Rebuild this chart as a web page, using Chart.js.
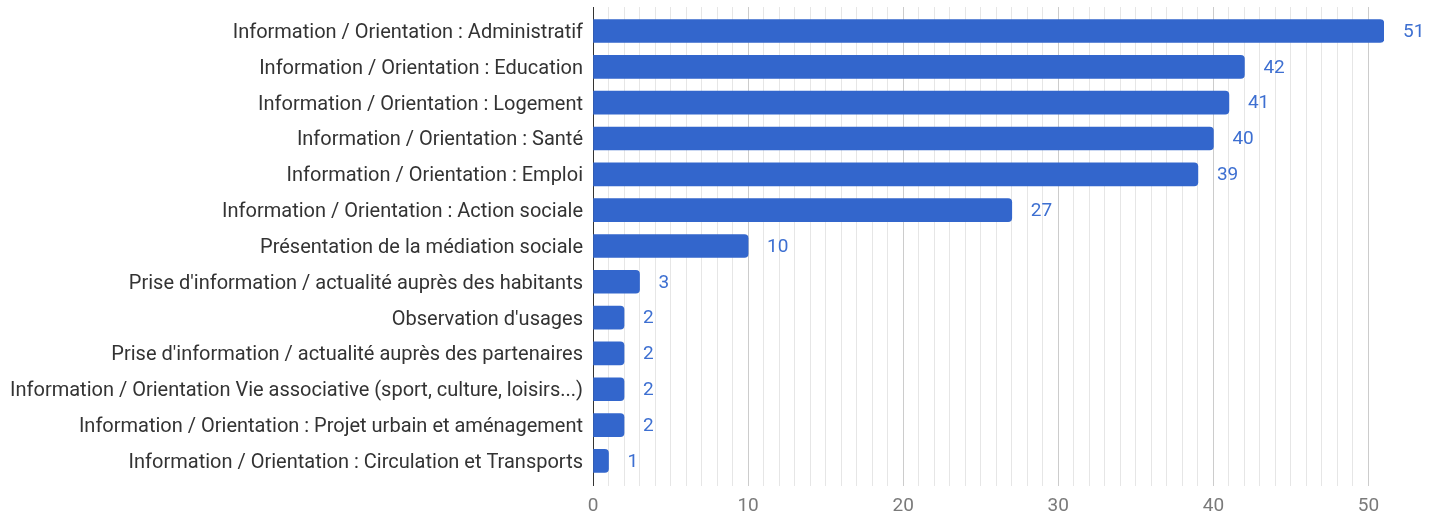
<!DOCTYPE html>
<html>
<head>
<meta charset="utf-8">
<script src="https://cdn.jsdelivr.net/npm/chart.js@4/dist/chart.umd.min.js"></script>
<style>
  html, body { margin: 0; padding: 0; background: #fff; }
  #wrap { width: 1441px; height: 518px; }
</style>
</head>
<body>
<div id="wrap"><canvas id="chart" width="1441" height="518"></canvas></div>
<script>
var categories = [
    "Information / Orientation : Administratif",
    "Information / Orientation : Education",
    "Information / Orientation : Logement",
    "Information / Orientation : Santé",
    "Information / Orientation : Emploi",
    "Information / Orientation : Action sociale",
    "Présentation de la médiation sociale",
    "Prise d'information / actualité auprès des habitants",
    "Observation d'usages",
    "Prise d'information / actualité auprès des partenaires",
    "Information / Orientation Vie associative (sport, culture, loisirs...)",
    "Information / Orientation : Projet urbain et aménagement",
    "Information / Orientation : Circulation et Transports"
];
var counts = [51, 42, 41, 40, 39, 27, 10, 3, 2, 2, 2, 2, 1];
var xTickLabels = [0, 10, 20, 30, 40, 50];

var points = [];
for (var i = 0; i < counts.length; i++) {
    points.push({x: counts[i], y: i});
}

// draws the count just to the right of each bar
var valueLabels = {
    id: 'valueLabels',
    afterDatasetsDraw: function(chart) {
        var ctx = chart.ctx;
        var meta = chart.getDatasetMeta(0);
        ctx.save();
        ctx.font = '19px Roboto';
        ctx.fillStyle = '#3d6fd1';
        ctx.textAlign = 'left';
        ctx.textBaseline = 'middle';
        meta.data.forEach(function(bar, idx) {
            ctx.fillText(String(counts[idx]), bar.x + 19, bar.y + 1);
        });
        ctx.restore();
    }
};

var ctx = document.getElementById('chart').getContext('2d');
var myChart = new Chart(ctx, {
    type: 'bar',
    data: {
        datasets: [{
            data: points,
            backgroundColor: '#3366cc',
            borderWidth: 0,
            borderRadius: {topLeft: 0, bottomLeft: 0, topRight: 4, bottomRight: 4},
            borderSkipped: false,
            barThickness: 23
        }]
    },
    options: {
        indexAxis: 'y',
        responsive: false,
        animation: false,
        layout: {
            padding: {top: 7, right: 57, bottom: 0, left: 0}
        },
        plugins: {
            legend: {display: false},
            tooltip: {enabled: false}
        },
        scales: {
            x: {
                type: 'linear',
                min: 0,
                max: 51,
                border: {display: false},
                grid: {
                    drawTicks: false,
                    color: function(c) {
                        var v = c.tick.value;
                        if (v === 0) return '#333333';
                        if (v > 50) return 'rgba(0,0,0,0)';
                        if (v % 10 === 0) return '#cccccc';
                        return '#e6e6e6';
                    }
                },
                ticks: {
                    stepSize: 1,
                    autoSkip: false,
                    maxRotation: 0,
                    padding: 9,
                    color: '#7a7a7a',
                    font: {family: 'Roboto', size: 19},
                    callback: function(v) {
                        return xTickLabels.indexOf(v) >= 0 ? String(v) : '';
                    }
                },
                afterFit: function(scale) {
                    scale.height = 32;
                    scale.paddingLeft = 0;
                    scale.paddingRight = 0;
                }
            },
            y: {
                type: 'linear',
                reverse: true,
                offset: false,
                min: -0.67,
                max: 12.7,
                border: {display: false},
                grid: {display: false, drawTicks: false, offset: false},
                ticks: {
                    padding: 10,
                    labelOffset: 2,
                    color: '#333333',
                    font: {family: 'Roboto', size: 20},
                    callback: function(v) {
                        return categories[v];
                    }
                },
                afterBuildTicks: function(scale) {
                    scale.ticks = categories.map(function(c, idx) { return {value: idx}; });
                },
                afterFit: function(scale) {
                    scale.width = 593;
                    scale.paddingTop = 0;
                    scale.paddingBottom = 0;
                }
            }
        }
    },
    plugins: [valueLabels]
});
</script>
</body>
</html>
